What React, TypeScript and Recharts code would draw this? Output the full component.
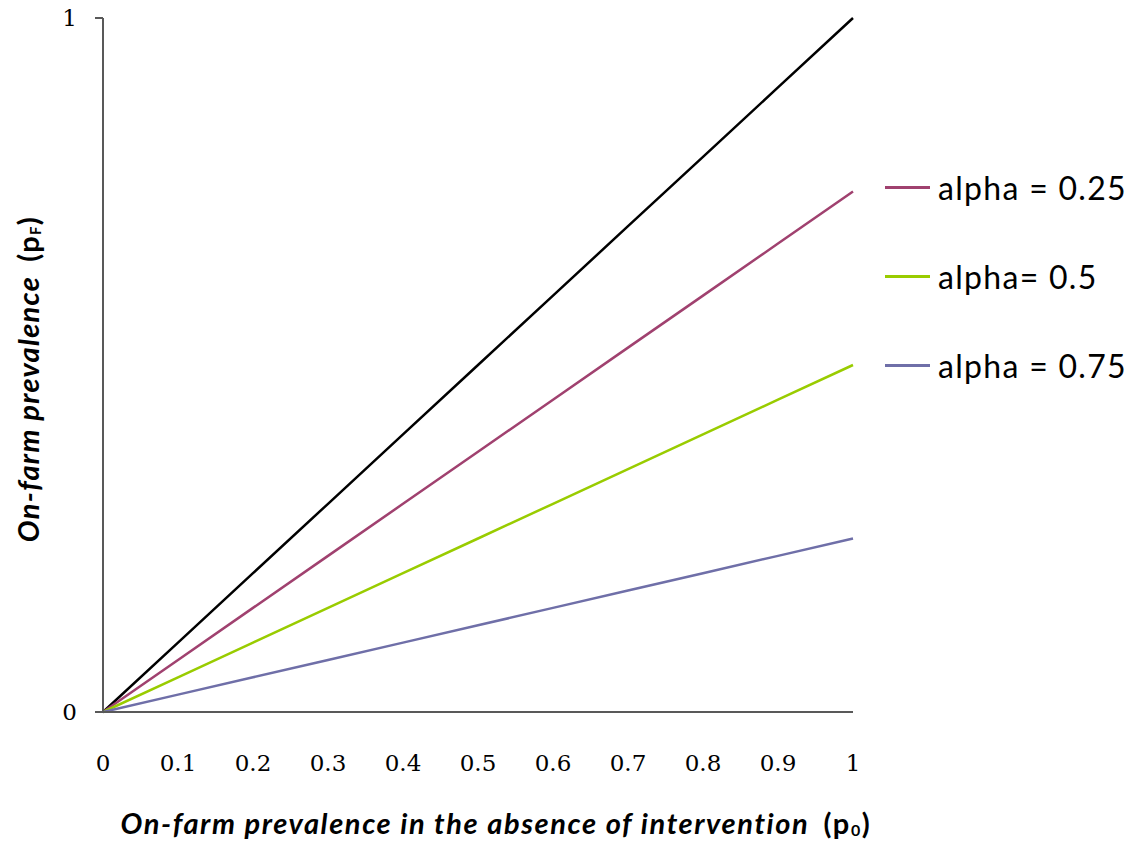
import { LineChart, Line, XAxis, YAxis } from "recharts";

// p0 along the x axis
const p0 = [0, 0.1, 0.2, 0.3, 0.4, 0.5, 0.6, 0.7, 0.8, 0.9, 1];

const baseline = [0, 0.1, 0.2, 0.3, 0.4, 0.5, 0.6, 0.7, 0.8, 0.9, 1];
const alpha025 = [0, 0.075, 0.15, 0.225, 0.3, 0.375, 0.45, 0.525, 0.6, 0.675, 0.75];
const alpha05 = [0, 0.05, 0.1, 0.15, 0.2, 0.25, 0.3, 0.35, 0.4, 0.45, 0.5];
const alpha075 = [0, 0.025, 0.05, 0.075, 0.1, 0.125, 0.15, 0.175, 0.2, 0.225, 0.25];

const xTicks = [0, 0.1, 0.2, 0.3, 0.4, 0.5, 0.6, 0.7, 0.8, 0.9, 1];
const yTicks = [0, 1];

const series = [
  { key: "a025", name: "alpha = 0.25", color: "#a0416f" },
  { key: "a05", name: "alpha= 0.5", color: "#99cc00" },
  { key: "a075", name: "alpha = 0.75", color: "#6f6fa8" },
];

const data = p0.map((x, i) => ({
  x,
  base: baseline[i],
  a025: alpha025[i],
  a05: alpha05[i],
  a075: alpha075[i],
}));

const tickFamily = "'DejaVu Serif', 'Liberation Serif', serif";

const titleFont = {
  fontFamily: "Lato, 'Open Sans', sans-serif",
  fontSize: 29,
  fontWeight: 700,
  fontStyle: "italic" as const,
  letterSpacing: 1.6,
  fill: "#000",
};

function XTick({ x, y, payload }: any) {
  return (
    <text x={x} y={y + 51} textAnchor="middle" fontFamily={tickFamily} fontSize={23} fill="#000">
      {String(payload.value)}
    </text>
  );
}

function YTick({ x, y, payload }: any) {
  return (
    <text x={x - 16} y={y + 8} textAnchor="end" fontFamily={tickFamily} fontSize={23} fill="#000">
      {String(payload.value)}
    </text>
  );
}

function LegendList() {
  return (
    <div
      style={{
        position: "absolute",
        left: 885,
        top: 143,
        fontFamily: "Lato, 'Open Sans', sans-serif",
        fontSize: 32,
        letterSpacing: 1.3,
        color: "#000",
      }}
    >
      {series.map((s) => (
        <div key={s.key} style={{ display: "flex", alignItems: "center", height: 89 }}>
          <span style={{ display: "inline-block", width: 45, height: 2.5, background: s.color, marginRight: 8 }} />
          <span>{s.name}</span>
        </div>
      ))}
    </div>
  );
}

export default function App() {
  return (
    <div style={{ position: "absolute", left: 0, top: 0, width: 1134, height: 841, background: "#fff" }}>
      <LineChart
        width={1134}
        height={841}
        data={data}
        margin={{ top: 18, right: 281, left: 43, bottom: 0 }}
      >
        <XAxis
          dataKey="x"
          type="number"
          domain={[0, 1]}
          ticks={xTicks}
          tickLine={false}
          axisLine={{ stroke: "#595959", strokeWidth: 2 }}
          height={129}
          tick={<XTick />}
        />
        <YAxis
          type="number"
          domain={[0, 1]}
          ticks={yTicks}
          width={60}
          tickSize={8}
          tickLine={{ stroke: "#595959", strokeWidth: 2 }}
          axisLine={{ stroke: "#595959", strokeWidth: 2 }}
          tick={<YTick />}
        />
        <Line dataKey="base" stroke="#000" strokeWidth={2.5} dot={false} isAnimationActive={false} legendType="none" />
        {series.map((s) => (
          <Line
            key={s.key}
            dataKey={s.key}
            name={s.name}
            stroke={s.color}
            strokeWidth={2.5}
            dot={false}
            isAnimationActive={false}
          />
        ))}
        <text x={496} y={834} textAnchor="middle" {...titleFont}>
          On-farm prevalence in the absence of intervention
          <tspan dx={14} fontStyle="normal">(p</tspan>
          <tspan fontStyle="normal" fontSize={16} dy={2}>0</tspan>
          <tspan fontStyle="normal" dy={-2}>)</tspan>
        </text>
        <text x={39} y={379} textAnchor="middle" transform="rotate(-90 39 379)" {...titleFont} letterSpacing={1.3}>
          On-farm prevalence
          <tspan dx={14} fontStyle="normal">(p</tspan>
          <tspan fontStyle="normal" fontSize={15} dy={2}>F</tspan>
          <tspan fontStyle="normal" dy={-2}>)</tspan>
        </text>
      </LineChart>
      <LegendList />
    </div>
  );
}
